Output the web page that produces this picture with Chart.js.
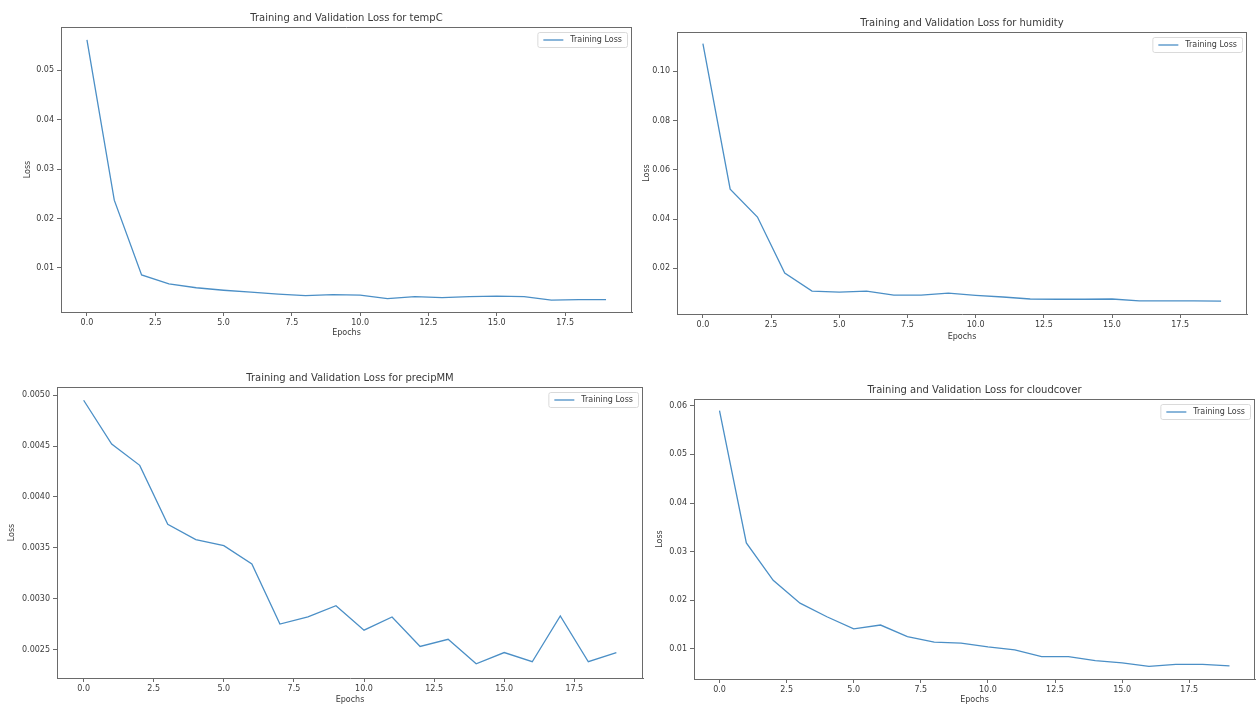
<!DOCTYPE html>
<html>
<head>
<meta charset="utf-8">
<script src="https://cdn.jsdelivr.net/npm/chart.js@4.4.1/dist/chart.umd.min.js"></script>
<style>
  html, body { margin: 0; padding: 0; background: #ffffff; }
  #wrap { position: relative; width: 1257px; height: 705px; overflow: hidden; }
  #wrap canvas { position: absolute; left: 0; top: 0; }
</style>
</head>
<body>
<div id="wrap">
  <canvas id="c1" width="1257" height="705"></canvas>
  <canvas id="c2" width="1257" height="705"></canvas>
  <canvas id="c3" width="1257" height="705"></canvas>
  <canvas id="c4" width="1257" height="705"></canvas>
</div>
<script>
// ---- data ----
const epochs = [0, 1, 2, 3, 4, 5, 6, 7, 8, 9, 10, 11, 12, 13, 14, 15, 16, 17, 18, 19];
const xTicks = [0.0, 2.5, 5.0, 7.5, 10.0, 12.5, 15.0, 17.5];
const xRange = [-0.95, 19.95];

const tempCLoss = [0.0561, 0.0237, 0.0086, 0.0068, 0.0060, 0.0055, 0.0051, 0.0047, 0.0044, 0.0046,
                   0.0045, 0.0038, 0.0042, 0.0040, 0.0042, 0.0043, 0.0042, 0.0035, 0.0036, 0.0036];
const humidityLoss = [0.1113, 0.0521, 0.0408, 0.0180, 0.0107, 0.0103, 0.0107, 0.0091, 0.0091, 0.0099,
                      0.0090, 0.0083, 0.0075, 0.0074, 0.0074, 0.0075, 0.0067, 0.0067, 0.0067, 0.0066];
const precipLoss = [0.00495, 0.00452, 0.00431, 0.00373, 0.00358, 0.00352, 0.00334, 0.00275, 0.00282, 0.00293,
                    0.00269, 0.00282, 0.00253, 0.00260, 0.00236, 0.00247, 0.00238, 0.00283, 0.00238, 0.00247];
const cloudLoss = [0.0590, 0.0318, 0.0241, 0.0194, 0.0166, 0.0141, 0.0149, 0.0125, 0.0114, 0.0112,
                   0.0104, 0.0098, 0.0084, 0.0084, 0.0076, 0.0071, 0.0064, 0.0068, 0.0068, 0.0065];

const tempCTicks = [0.01, 0.02, 0.03, 0.04, 0.05];
const humidityTicks = [0.02, 0.04, 0.06, 0.08, 0.10];
const precipTicks = [0.0025, 0.0030, 0.0035, 0.0040, 0.0045, 0.0050];
const cloudTicks = [0.01, 0.02, 0.03, 0.04, 0.05, 0.06];

const tempCRange = [0.0011, 0.0587];
const humidityRange = [0.0014, 0.1160];
const precipRange = [0.00222, 0.00508];
const cloudRange = [0.0038, 0.0614];

const titles = ['Training and Validation Loss for tempC', 'Training and Validation Loss for humidity',
                'Training and Validation Loss for precipMM', 'Training and Validation Loss for cloudcover'];
const seriesLabel = 'Training Loss';
const xLabel = 'Epochs';
const yLabel = 'Loss';

// ---- styling / layout ----
const FONT = '"DejaVu Sans", sans-serif';
const TEXT = '#3a3a3a';
const AXIS = '#6a6a6a';
const LINE = '#4b8fc6';

const decoPlugin = {
  id: 'deco',
  afterDraw(chart, args, opts) {
    const { ctx, chartArea: a } = chart;
    ctx.save();
    // frame (top and right sides; left/bottom are the axis borders)
    ctx.strokeStyle = AXIS;
    ctx.lineWidth = 1;
    ctx.beginPath();
    ctx.moveTo(Math.round(a.left), Math.round(a.top) + 0.5);
    ctx.lineTo(Math.round(a.right), Math.round(a.top) + 0.5);
    ctx.moveTo(Math.round(a.right) - 0.5, Math.round(a.top));
    ctx.lineTo(Math.round(a.right) - 0.5, Math.round(a.bottom));
    ctx.stroke();
    // title
    ctx.fillStyle = TEXT;
    ctx.font = '10px ' + FONT;
    ctx.textAlign = 'center';
    ctx.textBaseline = 'middle';
    ctx.fillText(opts.title, (a.left + a.right) / 2, a.top - 9);
    // legend (upper right inside axes)
    const label = chart.data.datasets[0].label;
    ctx.font = '8px ' + FONT;
    const tw = ctx.measureText(label).width;
    const boxW = 6 + 20 + 7 + tw + 5;
    const boxH = 15;
    const bx = a.right - 5 - boxW;
    const by = a.top + 5;
    ctx.fillStyle = 'rgba(255,255,255,0.85)';
    ctx.strokeStyle = '#dadada';
    ctx.beginPath();
    if (ctx.roundRect) ctx.roundRect(bx + 0.5, by + 0.5, boxW, boxH, 2); else ctx.rect(bx + 0.5, by + 0.5, boxW, boxH);
    ctx.fill();
    ctx.stroke();
    ctx.strokeStyle = chart.data.datasets[0].borderColor;
    ctx.lineWidth = 1.3;
    ctx.beginPath();
    ctx.moveTo(bx + 6, by + boxH / 2 + 0.5);
    ctx.lineTo(bx + 26, by + boxH / 2 + 0.5);
    ctx.stroke();
    ctx.fillStyle = TEXT;
    ctx.textAlign = 'left';
    ctx.fillText(label, bx + 33, by + boxH / 2 + 0.5);
    ctx.restore();
  }
};

function makeChart(id, title, values, yTicks, yRange, yDecimals, box) {
  const [L, T, R, B] = box.area;
  const W = 1257, H = 705;
  new Chart(document.getElementById(id), {
    type: 'line',
    data: {
      labels: epochs,
      datasets: [{
        label: seriesLabel,
        data: epochs.map((e, i) => ({ x: e, y: values[i] })),
        borderColor: LINE,
        borderWidth: 1.3,
        pointRadius: 0,
        tension: 0,
        fill: false
      }]
    },
    options: {
      responsive: false,
      animation: false,
      events: [],
      layout: {
        padding: { left: L - box.yW, top: T, right: W - R, bottom: H - B - box.xH }
      },
      plugins: {
        legend: { display: false },
        title: { display: false },
        tooltip: { enabled: false },
        deco: { title: title }
      },
      scales: {
        x: {
          type: 'linear',
          min: xRange[0],
          max: xRange[1],
          afterBuildTicks: (s) => { s.ticks = xTicks.map(v => ({ value: v })); },
          afterFit: (s) => { s.height = box.xH; },
          ticks: {
            autoSkip: false, maxRotation: 0, minRotation: 0, padding: 2,
            color: TEXT, font: { family: FONT, size: 8 },
            callback: (v) => Number(v).toFixed(1)
          },
          grid: { drawOnChartArea: false, drawTicks: true, tickLength: 4, color: AXIS, tickColor: AXIS },
          border: { display: true, color: AXIS },
          title: { display: true, text: xLabel, color: TEXT, font: { family: FONT, size: 8 }, padding: 0 }
        },
        y: {
          type: 'linear',
          min: yRange[0],
          max: yRange[1],
          afterBuildTicks: (s) => { s.ticks = yTicks.map(v => ({ value: v })); },
          afterFit: (s) => { s.width = box.yW; },
          ticks: {
            autoSkip: false, padding: 3,
            color: TEXT, font: { family: FONT, size: 8 },
            callback: (v) => Number(v).toFixed(yDecimals)
          },
          grid: { drawOnChartArea: false, drawTicks: true, tickLength: 4, color: AXIS, tickColor: AXIS },
          border: { display: true, color: AXIS },
          title: { display: true, text: yLabel, color: TEXT, font: { family: FONT, size: 8 }, padding: 0 }
        }
      }
    },
    plugins: [decoPlugin]
  });
}

makeChart('c1', titles[0], tempCLoss, tempCTicks, tempCRange, 2,
  { area: [61, 27, 632, 312], yW: 38, xH: 26 });
makeChart('c2', titles[1], humidityLoss, humidityTicks, humidityRange, 2,
  { area: [677, 32, 1247, 314], yW: 35, xH: 28 });
makeChart('c3', titles[2], precipLoss, precipTicks, precipRange, 4,
  { area: [57, 387, 643, 678], yW: 50, xH: 27 });
makeChart('c4', titles[3], cloudLoss, cloudTicks, cloudRange, 2,
  { area: [694, 399, 1255, 679], yW: 39, xH: 26 });
</script>
</body>
</html>
